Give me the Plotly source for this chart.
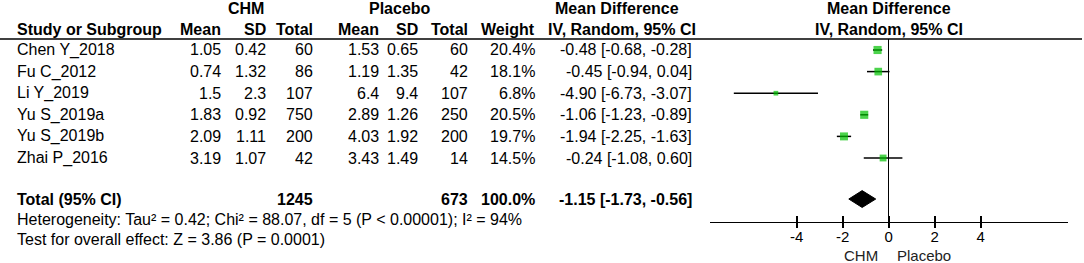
import plotly.graph_objects as go
import math

# ---------------- data ----------------
studies = ["Chen Y_2018", "Fu C_2012", "Li Y_2019", "Yu S_2019a", "Yu S_2019b", "Zhai P_2016"]
chm_mean = ["1.05", "0.74", "1.5", "1.83", "2.09", "3.19"]
chm_sd = ["0.42", "1.32", "2.3", "0.92", "1.11", "1.07"]
chm_total = ["60", "86", "107", "750", "200", "42"]
pla_mean = ["1.53", "1.19", "6.4", "2.89", "4.03", "3.43"]
pla_sd = ["0.65", "1.35", "9.4", "1.26", "1.92", "1.49"]
pla_total = ["60", "42", "107", "250", "200", "14"]
weight = [20.4, 18.1, 6.8, 20.5, 19.7, 14.5]
md = [-0.48, -0.45, -4.90, -1.06, -1.94, -0.24]
ci_lo = [-0.68, -0.94, -6.73, -1.23, -2.25, -1.08]
ci_hi = [-0.28, 0.04, -3.07, -0.89, -1.63, 0.60]

total_chm = "1245"
total_pla = "673"
total_weight = "100.0%"
total_md = -1.15
total_lo = -1.73
total_hi = -0.56

heterogeneity = "Heterogeneity: Tau² = 0.42; Chi² = 88.07, df = 5 (P < 0.00001); I² = 94%"
overall = "Test for overall effect: Z = 3.86 (P = 0.0001)"
tick_vals = [-4, -2, 0, 2, 4]
tick_text = ["-4", "-2", "0", "2", "4"]
favours = ["CHM", "Placebo"]

# ---------------- layout helpers ----------------
W, H = 1084, 263
FONT = "Liberation Sans, Arial, sans-serif"
FS = 16
GREEN = "#00C000"

ROW0_PX, ROW_STEP = 50, 21.6
row_y = [i + 1 for i in range(len(studies))]   # study rows
total_y = 7.9
het_y = 8.85
test_y = 9.75
hdr1_y = -0.9
hdr2_y = 0.07

def px(x):
    return x / W

def rowp(r):
    return (H - (ROW0_PX + (r - 1) * ROW_STEP)) / H

fig = go.Figure()

# CI lines
for i in range(len(studies)):
    fig.add_trace(go.Scatter(x=[ci_lo[i], ci_hi[i]], y=[row_y[i], row_y[i]], mode="lines",
                             line=dict(color="black", width=1.5), hoverinfo="skip", showlegend=False))
# squares
fig.add_trace(go.Scatter(x=md, y=row_y, mode="markers",
                         marker=dict(symbol="square", color=GREEN,
                                     size=[1.8 * math.sqrt(w) for w in weight], line=dict(width=0)),
                         hoverinfo="skip", showlegend=False))
# diamond
dh = 0.39
fig.add_trace(go.Scatter(x=[total_lo, total_md, total_hi, total_md, total_lo],
                         y=[total_y, total_y - dh, total_y, total_y + dh, total_y],
                         mode="lines", fill="toself", fillcolor="black",
                         line=dict(color="black", width=1), hoverinfo="skip", showlegend=False))
# dummy trace on overlay axis (for upward ticks)
fig.add_trace(go.Scatter(x=[None], y=[None], xaxis="x2", yaxis="y", showlegend=False, hoverinfo="skip"))

ann = []
def text(x, r, s, anchor="right", bold=False, size=FS, color="black", yp=None, xref="paper"):
    ann.append(dict(x=x, y=rowp(r) if yp is None else yp, xref=xref, yref="paper",
                    text=("<b>%s</b>" % s) if bold else s,
                    showarrow=False, xanchor=anchor, yanchor="middle",
                    font=dict(family=FONT, size=size, color=color)))

# headers
text(px(246), hdr1_y, "CHM", "center", True)
text(px(400), hdr1_y, "Placebo", "center", True)
text(px(617), hdr1_y, "Mean Difference", "center", True)
text(px(888.6), hdr1_y, "Mean Difference", "center", True)
text(px(15), hdr2_y, "Study or Subgroup", "left", True)
cols = [223, 268, 315, 381, 420, 470, 537]
for c, s in zip(cols, ["Mean", "SD", "Total", "Mean", "SD", "Total", "Weight"]):
    text(px(c), hdr2_y, s, "right", True)
text(px(622), hdr2_y, "IV, Random, 95% CI", "center", True)
text(px(888.6), hdr2_y, "IV, Random, 95% CI", "center", True)

# study rows
for i, s in enumerate(studies):
    r = row_y[i]
    text(px(15), r, s, "left")
    vals = [chm_mean[i], chm_sd[i], chm_total[i], pla_mean[i], pla_sd[i], pla_total[i], "%.1f%%" % weight[i]]
    for c, v in zip(cols, vals):
        text(px(c), r, v, "right")
    text(px(694), r, "%.2f [%.2f, %.2f]" % (md[i], ci_lo[i], ci_hi[i]), "right")

# total row
text(px(15), total_y, "Total (95% CI)", "left", True)
text(px(315), total_y, total_chm, "right", True)
text(px(470), total_y, total_pla, "right", True)
text(px(537), total_y, total_weight, "right", True)
text(px(694), total_y, "%.2f [%.2f, %.2f]" % (total_md, total_lo, total_hi), "right", True)

text(px(15), het_y, heterogeneity, "left")
text(px(15), test_y, overall, "left")

# favours labels
text(-0.37, 0, favours[0], "right", size=15, color="#222", yp=(H - 255.5) / H, xref="x")
text(0.27, 0, favours[1], "left", size=15, color="#222", yp=(H - 255.5) / H, xref="x")

xr = [-7.765, 7.8]
xdom = [710 / W, 1068 / W]
ydom = [(H - 222) / H, (H - 39) / H]
yr = [1 + (222 - ROW0_PX) / ROW_STEP, 1 + (39 - ROW0_PX) / ROW_STEP]

fig.update_layout(
    width=W, height=H, margin=dict(l=0, r=0, t=0, b=0),
    paper_bgcolor="white", plot_bgcolor="white",
    annotations=ann,
    shapes=[dict(type="line", xref="paper", yref="paper", x0=0, x1=1082 / W,
                 y0=ydom[1], y1=ydom[1], line=dict(color="black", width=1.3))],
    xaxis=dict(domain=xdom, range=xr, showgrid=False, zeroline=True, zerolinecolor="black",
               zerolinewidth=1.3, showline=True, linecolor="black", linewidth=1.3,
               ticks="outside", ticklen=5, tickwidth=1.5, tickcolor="black",
               tickvals=tick_vals, ticktext=tick_text, ticklabelstandoff=-4,
               tickfont=dict(family=FONT, size=15, color="black"), anchor="y", fixedrange=True),
    xaxis2=dict(domain=xdom, range=xr, overlaying="x", anchor="y", side="bottom",
                showgrid=False, zeroline=False, showline=False,
                ticks="inside", ticklen=6, tickwidth=1.5, tickcolor="black",
                tickvals=tick_vals, showticklabels=False, fixedrange=True),
    yaxis=dict(domain=ydom, range=yr, visible=False, fixedrange=True),
)

fig.write_html("out.html", config={"displayModeBar": False},
               post_script="document.body.style.margin='0';document.body.style.overflow='hidden';")
